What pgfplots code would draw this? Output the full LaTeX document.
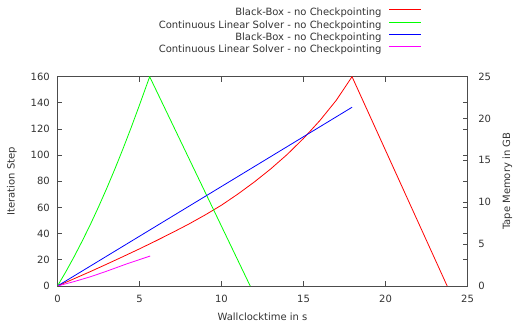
\documentclass[border=0pt]{standalone}
\usepackage{fontspec}
\setmainfont{DejaVu Sans}
\usepackage{pgfplots}
\pgfplotsset{compat=1.18}
\definecolor{axgray}{gray}{0.3}
\definecolor{txt}{gray}{0.2}
\definecolor{gpred}{rgb}{1,0,0}
\definecolor{gpgreen}{rgb}{0,1,0}
\definecolor{gpblue}{rgb}{0,0,1}
\definecolor{gpmag}{rgb}{1,0,1}
\begin{document}
\begin{tikzpicture}[font=\fontsize{10bp}{12bp}\selectfont]
\useasboundingbox (-57.5bp,-37bp) rectangle (456.5bp,286bp);
\pgfplotsset{
  common/.style={
    scale only axis, width=410bp, height=209.3bp,
    at={(0,0)}, anchor=south west,
    xmin=0, xmax=25, ymin=0,
    tick align=inside, major tick length=5bp,
    axis line style={axgray, line width=0.8bp},
    every tick/.style={axgray, line width=0.8bp},
    /pgf/number format/assume math mode=true,
    tick label style={text=txt},
    label style={text=txt},
  }
}
\begin{axis}[common,
  ymax=160,
  xtick={0,5,...,25}, ytick={0,20,...,160},
  xtick pos=both, xticklabel pos=lower,
  ytick pos=both, yticklabel pos=left,
  xticklabel style={anchor=north, inner sep=0pt, yshift=-9bp},
  yticklabel style={anchor=east, inner sep=0pt, xshift=-7.5bp},
  xlabel={Wallclocktime in s},
  xlabel style={at={(axis description cs:0.5,-0.1672)}, anchor=base, inner sep=0pt},
  ylabel={Iteration Step},
  ylabel style={at={(axis description cs:-0.1046,0.5)}, anchor=base, inner sep=0pt, rotate=0},
  legend plot pos=right,
  legend cell align=right,
  legend image code/.code={\draw[#1, line width=1.1bp] (0bp,3.6bp) -- (32bp,3.6bp);},
  legend style={at={(axis description cs:0.888,1.326)}, anchor=north east,
    draw=none, fill=none, inner sep=0pt, outer sep=0pt,
    column sep=7bp, row sep=2.5bp,
    nodes={inner sep=0pt, text height=7.5bp, text depth=2.3bp, text=txt}},
]
\addplot[draw=gpred, line width=0.8bp] coordinates {
(0,0) (1,5.5) (2,11) (3,16.7) (4,22.5) (5,28.4) (6,34.5) (7,40.8) (8,47.3)
(9,54.3) (10,61.8) (11,70.3) (12,79.5) (13,89.5) (14,100.5) (15,112.8)
(16,126.5) (17,142) (17.96,160) (23.76,0)};
\addlegendentry{Black-Box - no Checkpointing}
\addplot[draw=gpgreen, line width=0.8bp] coordinates {
(0,0) (0.5,10.7) (1,22.1) (1.5,34.2) (2,46.9) (2.5,60.4) (3,74.6) (3.5,89.5)
(4,105.1) (4.5,121.4) (5,138.4) (5.62,160) (11.75,0)};
\addlegendentry{Continuous Linear Solver - no Checkpointing}
\addlegendimage{draw=gpblue, line width=0.8bp}
\addlegendentry{Black-Box - no Checkpointing}
\addlegendimage{draw=gpmag, line width=0.8bp}
\addlegendentry{Continuous Linear Solver - no Checkpointing}
\end{axis}
\begin{axis}[common,
  ymax=25,
  axis x line=none,
  axis y line*=right,
  ytick={0,5,...,25},
  yticklabel style={anchor=west, inner sep=0pt, xshift=10.6bp},
  ylabel={Tape Memory in GB},
  ylabel style={at={(axis description cs:1.1037,0.5)}, anchor=base, inner sep=0pt, rotate=0},
]
\addplot[draw=gpblue, line width=0.8bp] coordinates {(0,0) (17.96,21.35)};
\addplot[draw=gpmag, line width=0.8bp] coordinates {
(0,0) (1,0.52) (2,1.1) (2.9,1.70) (4.32,2.71) (5.65,3.58)};
\end{axis}
\end{tikzpicture}
\end{document}
